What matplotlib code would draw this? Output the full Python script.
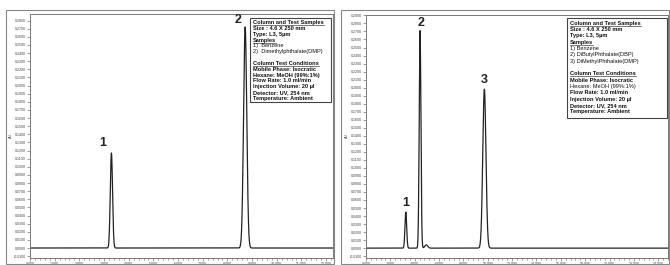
import numpy as np
import matplotlib
matplotlib.use("Agg")
import matplotlib.pyplot as plt
from matplotlib.patches import Rectangle
from matplotlib.ticker import MultipleLocator, FormatStrFormatter

# ---- data ----
# left chromatogram: peak retention times (min), heights (AU), widths (sigma, min)
left_peak_times = [3.30, 8.72]
left_peak_heights = [0.117, 0.272]
left_peak_sigmas = [0.045, 0.065]
left_peak_labels = ["1", "2"]
left_xticks = list(range(0, 13))

# right chromatogram
right_peak_times = [3.27, 4.44, 4.95, 9.72]
right_peak_heights = [0.045, 0.271, 0.004, 0.198]
right_peak_sigmas = [0.07, 0.07, 0.12, 0.13]
right_peak_labels = ["1", "2", None, "3"]
right_xticks = list(range(0, 25, 2))

left_info = [
    ("Column and Test Samples", "bu"),
    ("Size : 4.6 X 250 mm", "b"),
    ("Type: L3, 5µm", "b"),
    ("Samples", "bu"),
    ("1)  Benzene", "n"),
    ("2)  Dimethylphthalate(DMP)", "n"),
    ("", "n"),
    ("Column Test Conditions", "bu"),
    ("Mobile Phase: Isocratic", "b"),
    ("Hexane: MeOH (99%:1%)", "b"),
    ("Flow Rate: 1.0 ml/min", "b"),
    ("Injection Volume: 20 µl", "b"),
    ("Detector: UV, 254 nm", "b"),
    ("Temperature: Ambient", "b"),
]
right_info = [
    ("Column and Test Samples", "bu"),
    ("Size : 4.6 X 250 mm", "b"),
    ("Type: L3, 5µm", "b"),
    ("Samples", "bu"),
    ("1) Benzene", "n"),
    ("2) DiButylPhthalate(DBP)", "n"),
    ("3) DiMethylPhthalate(DMP)", "n"),
    ("", "n"),
    ("Column Test Conditions", "bu"),
    ("Mobile Phase: Isocratic", "b"),
    ("Hexane: MeOH (99%:1%)", "n"),
    ("Flow Rate: 1.0 ml/min", "b"),
    ("Injection Volume: 20 µl", "b"),
    ("Detector: UV, 254 nm", "b"),
    ("Temperature: Ambient", "b"),
]

W, H = 670, 265
fig = plt.figure(figsize=(W / 100, H / 100), dpi=100)
plt.rcParams['font.family'] = ['Liberation Sans', 'DejaVu Sans']


def fx(px):
    return px / W


def fy(py):
    return 1 - py / H


# outer frames
for (x0, x1) in [(6, 334), (341, 669)]:
    fig.patches.append(Rectangle((fx(x0), fy(264)), fx(x1 - x0), (254) / H,
                                 transform=fig.transFigure, fill=False,
                                 edgecolor="#888888", lw=0.8))


def make_panel(left_px, right_px, top_px, bottom_px, times, heights, sigmas,
               labels, label_offsets, xticks, xmax, ymax, ymin, xminor, info,
               box, line_start, line_h):
    ax = fig.add_axes([fx(left_px), fy(bottom_px), fx(right_px - left_px),
                       (bottom_px - top_px) / H])
    x = np.linspace(0, xmax, 4000)
    y = np.zeros_like(x)
    for t, h, s in zip(times, heights, sigmas):
        y += h * np.exp(-0.5 * ((x - t) / s) ** 2)
    ax.plot(x, y, color="#222222", lw=0.9)
    ax.set_xlim(0, xmax)
    ax.set_ylim(ymin, ymax)
    ax.set_xticks(xticks)
    ax.xaxis.set_major_formatter(FormatStrFormatter("%.3f"))
    ax.xaxis.set_minor_locator(MultipleLocator(xminor))
    ax.yaxis.set_major_locator(MultipleLocator(0.01))
    ax.yaxis.set_major_formatter(FormatStrFormatter("%.4f"))
    ax.tick_params(axis="both", labelsize=2.6, length=2, width=0.4,
                   pad=1, colors="#555555", labelcolor="#444444")
    ax.tick_params(axis="x", which="minor", length=1.2, width=0.4, colors="#555555")
    for sp in ax.spines.values():
        sp.set_color("#777777")
        sp.set_linewidth(0.7)
    lab_i = 0
    for t, h, lab in zip(times, heights, labels):
        if lab:
            dx, dy = label_offsets[lab_i]
            lab_i += 1
            ax.annotate(lab, (t, h), xytext=(dx, dy), textcoords="offset points",
                        ha="center", va="bottom", fontsize=9, fontweight="bold",
                        color="#222222")
    # info box
    bx0, by0, bx1, by1 = box
    fig.patches.append(Rectangle((fx(bx0), fy(by1)), fx(bx1 - bx0), (by1 - by0) / H,
                                 transform=fig.transFigure, fill=True,
                                 facecolor="white", edgecolor="#444444", lw=0.8,
                                 zorder=5))
    for i, (txt, st) in enumerate(info):
        if not txt:
            continue
        yy = by0 + line_start + i * line_h
        t_obj = fig.text(fx(bx0 + 3), fy(yy), txt, fontsize=4.1,
                         fontweight="bold" if "b" in st else "normal",
                         color="#111111", va="center", ha="left", zorder=6)
        if "u" in st:
            fig.canvas.draw()
            bb = t_obj.get_window_extent()
            fig.lines.append(plt.Line2D([bb.x0 / W, bb.x1 / W],
                                        [fy(yy + 2.6), fy(yy + 2.6)],
                                        transform=fig.transFigure,
                                        color="#111111", lw=0.4, zorder=6))
    return ax


make_panel(30, 333, 14, 258, left_peak_times, left_peak_heights, left_peak_sigmas,
           left_peak_labels, [(-6, 3), (-5, 1)], left_xticks, 12.28, 0.288, -0.0123,
           0.2, left_info, (250, 18, 331, 102), 4.5, 5.85)
make_panel(366, 668, 15, 258, right_peak_times, right_peak_heights, right_peak_sigmas,
           right_peak_labels, [(0, 2), (1, 1), (0, 2)], right_xticks, 24.8, 0.2905,
           -0.0123, 0.4, right_info, (567, 18, 667, 118), 5.0, 6.35)

fig.text(fx(11), fy(135), "AU", fontsize=2.6, rotation=90, va="center", ha="center",
         color="#444444")
fig.text(fx(347), fy(135), "AU", fontsize=2.6, rotation=90, va="center", ha="center",
         color="#444444")

fig.savefig("out.png", dpi=100)
